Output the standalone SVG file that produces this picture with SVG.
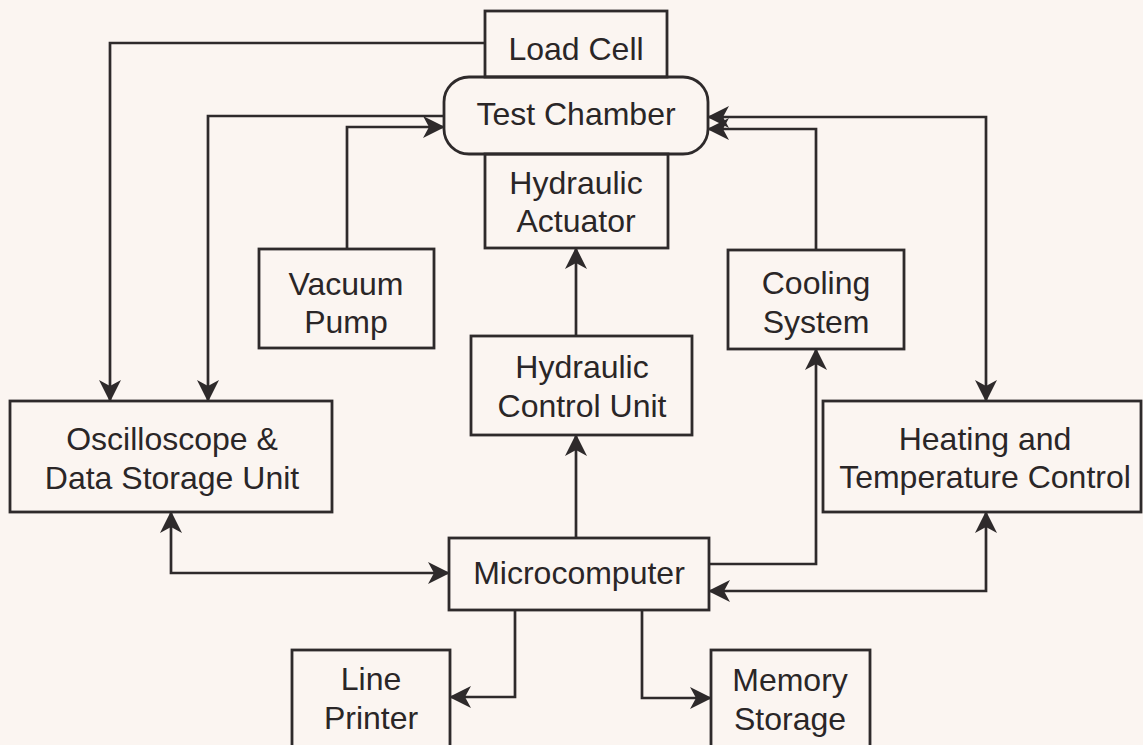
<svg xmlns="http://www.w3.org/2000/svg" width="1143" height="745" viewBox="0 0 1143 745">
<style>
.box{fill:none;stroke:#2e2a2b;stroke-width:2.8}
.lbl{font-family:"Liberation Sans",Arial,sans-serif;font-size:32px;fill:#2a2627;text-anchor:middle}
.c{fill:none;stroke:#2e2a2b;stroke-width:2.7}
</style>
<defs>
<marker id="ah" viewBox="0 0 22 24" refX="21" refY="12" markerWidth="22" markerHeight="24" markerUnits="userSpaceOnUse" orient="auto-start-reverse">
<path d="M22,12 L0,1 L6,12 L0,23 Z" fill="#2e2a2b"/>
</marker>
</defs>
<rect x="0" y="0" width="1143" height="745" fill="#fbf5f1"/>

<g id="connectors">
<path class="c" d="M485,43 H110 V401" marker-end="url(#ah)"/>
<path class="c" d="M444,116 H208 V401" marker-end="url(#ah)"/>
<path class="c" d="M347,248 V127 H444" marker-end="url(#ah)"/>
<path class="c" d="M576,336 V248" marker-end="url(#ah)"/>
<path class="c" d="M576,538 V435" marker-end="url(#ah)"/>
<path class="c" d="M171,512 V573 H449" marker-start="url(#ah)" marker-end="url(#ah)"/>
<path class="c" d="M709,564 H816 V349" marker-end="url(#ah)"/>
<path class="c" d="M986,512 V591 H709" marker-start="url(#ah)" marker-end="url(#ah)"/>
<path class="c" d="M708,117 H986 V401" marker-start="url(#ah)" marker-end="url(#ah)"/>
<path class="c" d="M816,250 V129 H708" marker-end="url(#ah)"/>
<path class="c" d="M515,610 V697 H450" marker-end="url(#ah)"/>
<path class="c" d="M642,610 V698 H711" marker-end="url(#ah)"/>
</g>

<g id="load-cell">
<rect class="box" x="485" y="11" width="182" height="66"/>
<text class="lbl" x="576" y="60">Load Cell</text>
</g>
<g id="test-chamber">
<rect class="box" x="444" y="77" width="264" height="77" rx="25" ry="25"/>
<text class="lbl" x="576" y="125">Test Chamber</text>
</g>
<g id="hydraulic-actuator">
<rect class="box" x="485" y="154" width="183" height="94"/>
<text class="lbl" x="576" y="194">Hydraulic</text>
<text class="lbl" x="576" y="232">Actuator</text>
</g>
<g id="vacuum-pump">
<rect class="box" x="259" y="249" width="175" height="99"/>
<text class="lbl" x="346" y="295">Vacuum</text>
<text class="lbl" x="346" y="333">Pump</text>
</g>
<g id="cooling-system">
<rect class="box" x="728" y="250" width="176" height="99"/>
<text class="lbl" x="816" y="294">Cooling</text>
<text class="lbl" x="816" y="333">System</text>
</g>
<g id="hydraulic-control-unit">
<rect class="box" x="471" y="336" width="221" height="99"/>
<text class="lbl" x="582" y="378">Hydraulic</text>
<text class="lbl" x="582" y="417">Control Unit</text>
</g>
<g id="oscilloscope">
<rect class="box" x="10" y="401" width="322" height="111"/>
<text class="lbl" x="172" y="450">Oscilloscope &amp;</text>
<text class="lbl" x="172" y="489">Data Storage Unit</text>
</g>
<g id="heating">
<rect class="box" x="823" y="401" width="318" height="111"/>
<text class="lbl" x="985" y="450">Heating and</text>
<text class="lbl" x="985" y="488">Temperature Control</text>
</g>
<g id="microcomputer">
<rect class="box" x="449" y="538" width="260" height="72"/>
<text class="lbl" x="579" y="584">Microcomputer</text>
</g>
<g id="line-printer">
<rect class="box" x="292" y="650" width="158" height="120"/>
<text class="lbl" x="371" y="690">Line</text>
<text class="lbl" x="371" y="729">Printer</text>
</g>
<g id="memory-storage">
<rect class="box" x="711" y="650" width="159" height="120"/>
<text class="lbl" x="790" y="691">Memory</text>
<text class="lbl" x="790" y="730">Storage</text>
</g>
</svg>
